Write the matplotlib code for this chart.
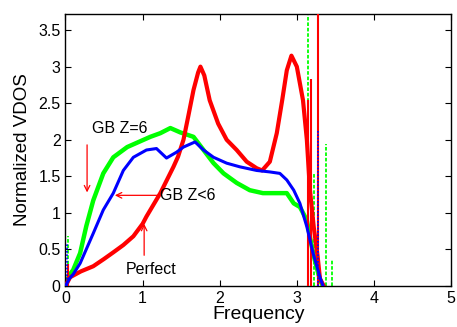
import matplotlib
matplotlib.use("Agg")
import matplotlib.pyplot as plt

plt.rcParams['font.family'] = ['Liberation Sans', 'DejaVu Sans']

# Perfect (red)
perfect_x = [0, 0.04, 0.06, 0.2, 0.36, 0.5, 0.62, 0.75, 0.88, 1.0, 1.05, 1.23,
             1.4, 1.46, 1.53, 1.59, 1.66, 1.72, 1.75, 1.8, 1.87, 1.98, 2.09, 2.22,
             2.35, 2.48, 2.55, 2.65, 2.74, 2.81, 2.87, 2.93, 3.0, 3.08, 3.13, 3.17,
             3.22, 3.27, 3.30, 3.35]
perfect_y = [0, 0.08, 0.12, 0.2, 0.27, 0.37, 0.46, 0.56, 0.68, 0.85, 0.95, 1.27,
             1.63, 1.77, 2.0, 2.31, 2.68, 2.92, 3.0, 2.88, 2.54, 2.22, 2.0, 1.86,
             1.70, 1.61, 1.58, 1.70, 2.09, 2.54, 2.95, 3.15, 3.0, 2.54, 2.0, 1.31,
             0.8, 0.4, 0.1, 0.0]

# GB Z=6 (green)
gbz6_x = [0, 0.05, 0.1, 0.19, 0.27, 0.36, 0.49, 0.62, 0.80, 1.10, 1.23,
          1.36, 1.49, 1.66, 1.79, 1.92, 2.05, 2.22, 2.39, 2.56, 2.74, 2.87, 2.96,
          3.04, 3.13, 3.21, 3.30, 3.34]
gbz6_y = [0, 0.15, 0.22, 0.45, 0.82, 1.17, 1.54, 1.76, 1.90, 2.04, 2.09,
          2.16, 2.10, 2.04, 1.86, 1.68, 1.54, 1.41, 1.31, 1.27, 1.27, 1.27, 1.13,
          1.08, 0.9, 0.45, 0.08, 0.0]

# GB Z<6 (blue)
gbzl6_x = [0, 0.05, 0.1, 0.19, 0.36, 0.49, 0.62, 0.75, 0.88, 1.05, 1.18,
           1.31, 1.44, 1.53, 1.68, 1.79, 1.92, 2.09, 2.26, 2.48, 2.65, 2.78, 2.87,
           2.96, 3.04, 3.13, 3.21, 3.30, 3.34]
gbzl6_y = [0, 0.1, 0.16, 0.31, 0.72, 1.04, 1.27, 1.58, 1.76, 1.86, 1.88,
           1.75, 1.83, 1.90, 1.97, 1.86, 1.76, 1.68, 1.63, 1.58, 1.56, 1.54, 1.45,
           1.31, 1.13, 0.81, 0.45, 0.12, 0.0]

# narrow spikes
red_spike_x = [0.03, 3.14, 3.19, 3.28]
red_spike_h = [0.3, 2.54, 2.83, 4.0]
green_spike_x = [0.03, 3.15, 3.22, 3.38, 3.45]
green_spike_h = [0.68, 4.0, 1.54, 1.94, 0.36]
blue_spike_x = [0.02, 3.27]
blue_spike_h = [0.59, 2.13]

xticks = [0, 1, 2, 3, 4, 5]
yticks = [0, 0.5, 1, 1.5, 2, 2.5, 3, 3.5]

fig = plt.figure(figsize=(4.57, 3.27), dpi=100)
ax = fig.add_axes([0.1433, 0.1254, 0.8437, 0.8318])

ax.plot(gbz6_x, gbz6_y, color='#00ff00', lw=3.2, zorder=2)
ax.plot(perfect_x, perfect_y, color='#ff0000', lw=3.0, zorder=3)
ax.plot(gbzl6_x, gbzl6_y, color='#0000ff', lw=2.2, zorder=4)

ax.vlines(green_spike_x, 0, green_spike_h, colors='#00ff00', linestyles=(0, (2, 1)), lw=1.3, zorder=2)
ax.vlines(red_spike_x, 0, red_spike_h, colors='#ff0000', lw=1.5, zorder=3)
ax.vlines(blue_spike_x, 0, blue_spike_h, colors='#0000ff', linestyles=(0, (1, 1)), lw=1.2, zorder=4)

ax.set_xlim(0, 5)
ax.set_ylim(0, 3.72)
ax.set_xticks(xticks)
ax.set_yticks(yticks)
ax.set_xticklabels([str(t) for t in xticks])
ax.set_yticklabels(['0', '0.5', '1', '1.5', '2', '2.5', '3', '3.5'])
ax.tick_params(direction='in', top=True, right=True, length=4, labelsize=11.5, width=0.8)
for s in ax.spines.values():
    s.set_linewidth(1.0)

ax.set_xlabel('Frequency', fontsize=14, labelpad=0)
ax.set_ylabel('Normalized VDOS', fontsize=13.5, labelpad=5)

arrow = dict(arrowstyle='->', color='#ff0000', lw=0.9, shrinkA=0, shrinkB=0)
ax.text(0.71, 2.16, 'GB Z=6', fontsize=11.5, ha='center', va='center')
ax.annotate('', xy=(0.28, 1.28), xytext=(0.28, 1.93), arrowprops=arrow)
ax.text(1.22, 1.24, 'GB Z<6', fontsize=11.5, ha='left', va='center')
ax.annotate('', xy=(0.64, 1.24), xytext=(1.2, 1.24), arrowprops=arrow)
ax.text(1.11, 0.22, 'Perfect', fontsize=11.5, ha='center', va='center')
ax.annotate('', xy=(1.02, 0.85), xytext=(1.02, 0.42), arrowprops=arrow)

fig.savefig('out.png', dpi=100)
